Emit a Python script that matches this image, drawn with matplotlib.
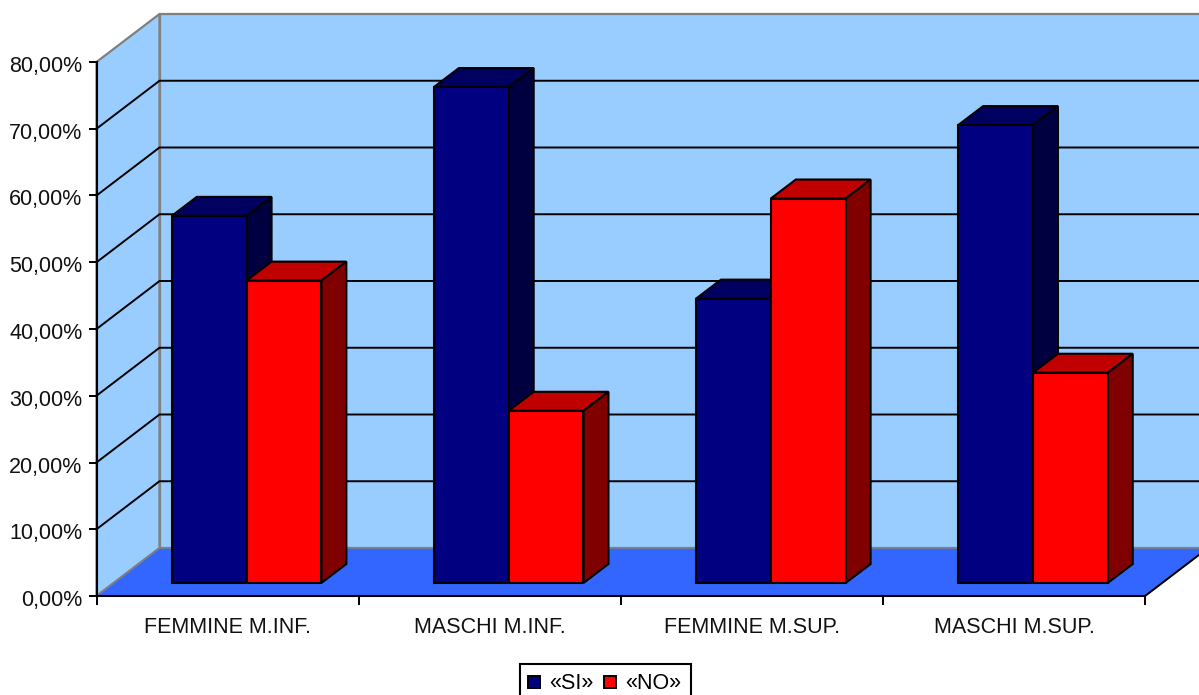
import matplotlib
matplotlib.use("Agg")
import matplotlib.pyplot as plt
import numpy as np
from matplotlib.legend_handler import HandlerPatch
from matplotlib.patches import Polygon, Patch, Rectangle
from matplotlib.transforms import ScaledTranslation

plt.rcParams['font.family'] = ['Liberation Sans', 'DejaVu Sans']

# values, in percent
categories = ["FEMMINE M.INF.", "MASCHI M.INF.", "FEMMINE M.SUP.", "MASCHI M.SUP."]
si_values = [55.0, 74.3, 42.6, 68.6]
no_values = [45.3, 25.8, 57.6, 31.5]
y_ticks = [0, 10, 20, 30, 40, 50, 60, 70, 80]
y_labels = ["0,00%", "10,00%", "20,00%", "30,00%", "40,00%", "50,00%", "60,00%", "70,00%", "80,00%"]

W, H = 1199, 695
fig = plt.figure(figsize=(W / 100, H / 100), dpi=100, facecolor="white")
# the front plane of the fake 3d box, from pixel positions
ax = fig.add_axes([96.5 / W, 1 - 596 / H, 1048.5 / W, 534 / H])
ax.set_xlim(0, 4)
ax.set_ylim(0, 80)
ax.patch.set_visible(False)

# depth of the box in data units
DX = 63 / (1048.5 / 4)
DY = 48 / (534 / 80)
BAR_W = 74.8 / (1048.5 / 4)


def poly(points, color, edge="black", lw=1.5, z=2):
    ax.add_patch(Polygon(points, closed=True, facecolor=color, edgecolor=edge, linewidth=lw,
                         joinstyle="miter", clip_on=False, zorder=z))


# walls and floor
poly([(0, 0), (DX, DY), (DX, 80 + DY), (0, 80)], "#99CCFF", edge="#808080", lw=1.6, z=1)
poly([(DX, DY), (4 + DX, DY), (4 + DX, 80 + DY), (DX, 80 + DY)], "#99CCFF", edge="#808080", lw=1.6, z=1)
poly([(0, 0), (DX, DY), (4 + DX, DY), (4, 0)], "#3366FF", edge="#808080", lw=1.2, z=1)

# gridlines, bent round the corner
for t in y_ticks[1:-1]:
    ax.plot([0, DX, 4 + DX], [t, t + DY, t + DY], color="black", lw=1.4, clip_on=False, zorder=1.5)

# floor front and right edge are black
ax.plot([4, 4 + DX], [0, DY], color="black", lw=1.4, clip_on=False, zorder=1.6)

# the bars
x = np.arange(len(categories)) + 0.5
offset = 19 / (1048.5 / 4)
base = 13 / (534 / 80)
dx = 25 / (1048.5 / 4)
dy = 19 / (534 / 80)

z = 3
for i in range(len(categories)):
    for val, left, face, top, side in [
        (si_values[i], x[i] + offset - BAR_W, "#000080", "#000060", "#000040"),
        (no_values[i], x[i] + offset, "#FF0000", "#C00000", "#800000"),
    ]:
        y1 = base + val
        poly([(left, y1), (left + dx, y1 + dy), (left + BAR_W + dx, y1 + dy), (left + BAR_W, y1)], top, z=z)
        poly([(left + BAR_W, base), (left + BAR_W + dx, base + dy), (left + BAR_W + dx, y1 + dy), (left + BAR_W, y1)], side, z=z)
        ax.bar(left, val, width=BAR_W, bottom=base, align="edge", color=face, edgecolor="black",
               linewidth=1.5, zorder=z + 0.5, clip_on=False)
        z += 1

# axes
for s in ["top", "right"]:
    ax.spines[s].set_visible(False)
for s in ["left", "bottom"]:
    ax.spines[s].set_linewidth(1.5)
    ax.spines[s].set_zorder(20)
ax.set_yticks(y_ticks)
ax.set_yticklabels(y_labels, fontsize=15.5, color="#111111")
ax.set_xticks([0, 1, 2, 3, 4])
ax.set_xticklabels([])
ax.set_xticks(x, categories, minor=True, fontsize=15.5, color="#111111")
ax.tick_params(axis="x", which="major", length=6.5, width=1.4, color="black")
ax.tick_params(axis="x", which="minor", length=0, pad=15)
ax.tick_params(axis="y", length=6, width=1.4, pad=4)
# y labels sit a little under their ticks
shift = ScaledTranslation(0, -2 / 100, fig.dpi_scale_trans)
for lab in ax.get_yticklabels():
    lab.set_transform(lab.get_transform() + shift)


def raised_box(legend, orig_handle, xdescent, ydescent, width, height, fontsize, trans=None):
    return Rectangle((0, 1.0), width, height)


# frame of the legend runs off the bottom of the picture
fig.add_artist(Rectangle((520 / W, 1 - 712 / H), 171 / W, 48 / H, transform=fig.transFigure,
                         facecolor="white", edgecolor="black", linewidth=1.5, zorder=5))
handles = [Patch(facecolor="#000080", edgecolor="black", linewidth=1.4, label="«SI»"),
           Patch(facecolor="#FF0000", edgecolor="black", linewidth=1.4, label="«NO»")]
leg = fig.legend(handles=handles, loc="lower left", bbox_to_anchor=(528 / W, 1 / H), ncols=2,
                 fontsize=15.5, frameon=False,
                 handlelength=0.58, handleheight=0.42, handletextpad=0.42, columnspacing=0.46,
                 borderpad=0, borderaxespad=0,
                 handler_map={Patch: HandlerPatch(patch_func=raised_box)})
leg.set_zorder(6)

fig.savefig("out.png", dpi=100)
